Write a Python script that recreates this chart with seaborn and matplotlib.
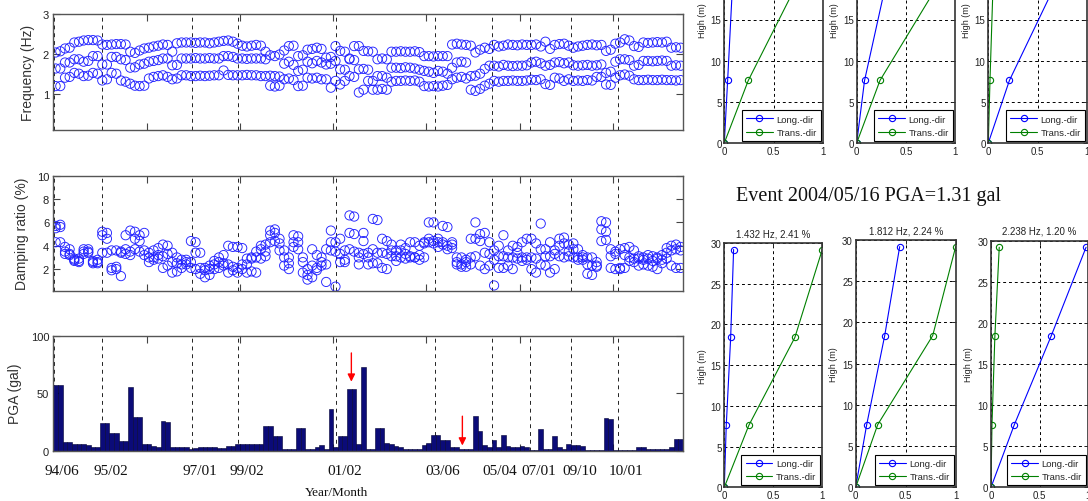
import numpy as np
import pandas as pd
import matplotlib
matplotlib.use("Agg")
import matplotlib.pyplot as plt
import seaborn as sns
from matplotlib.transforms import blended_transform_factory

# ---------------- data ----------------
freq_mode1 = [1.19, 1.19, 1.40, 1.42, 1.52, 1.50, 1.44, 1.45, 1.52, 1.50,
              1.33, 1.36, 1.52, 1.50, 1.33, 1.30, 1.25, 1.20, 1.19, 1.20,
              1.38, 1.42, 1.44, 1.46, 1.42, 1.36, 1.38, 1.46, 1.46, 1.44,
              1.44, 1.45, 1.44, 1.45, 1.46, 1.46, 1.58, 1.47, 1.46, 1.46,
              1.46, 1.47, 1.46, 1.46, 1.44, 1.44, 1.20, 1.18, 1.20, 1.36,
              1.38, 1.34, 1.19, 1.20, 1.40, 1.38, 1.40, 1.36, 1.36, 1.15,
              1.32, 1.23, 1.32, 1.44, 1.42, 1.03, 1.10, 1.32, 1.10, 1.10,
              1.12, 1.10, 1.30, 1.32, 1.32, 1.33, 1.32, 1.33, 1.30, 1.19,
              1.18, 1.19, 1.18, 1.20, 1.22, 1.36, 1.40, 1.42, 1.38, 1.10,
              1.07, 1.12, 1.20, 1.25, 1.32, 1.30, 1.32, 1.32, 1.33, 1.32,
              1.32, 1.33, 1.35, 1.34, 1.36, 1.24, 1.22, 1.40, 1.38, 1.32,
              1.36, 1.32, 1.33, 1.32, 1.34, 1.33, 1.42, 1.42, 1.23, 1.22,
              1.40, 1.46, 1.48, 1.45, 1.36, 1.34, 1.34, 1.35, 1.34, 1.34,
              1.35, 1.34, 1.34, 1.33, 1.34]
freq_mode2 = [1.63, 1.63, 1.78, 1.78, 1.86, 1.86, 1.80, 1.82, 1.94, 1.94,
              1.73, 1.73, 1.92, 1.92, 1.86, 1.84, 1.65, 1.66, 1.73, 1.75,
              1.80, 1.82, 1.84, 1.88, 1.88, 1.71, 1.72, 1.88, 1.88, 1.88,
              1.89, 1.88, 1.88, 1.89, 1.88, 1.88, 1.94, 1.94, 1.92, 1.88,
              1.88, 1.87, 1.88, 1.88, 1.88, 1.86, 1.45, 1.44, 1.43, 1.75,
              1.80, 1.72, 1.57, 1.60, 1.80, 1.76, 1.82, 1.78, 1.73, 1.75,
              1.82, 1.61, 1.60, 1.86, 1.84, 1.61, 1.62, 1.60, 1.32, 1.44,
              1.44, 1.40, 1.65, 1.65, 1.64, 1.66, 1.65, 1.63, 1.60, 1.57,
              1.55, 1.52, 1.57, 1.55, 1.50, 1.65, 1.78, 1.80, 1.78, 1.44,
              1.45, 1.50, 1.62, 1.70, 1.70, 1.68, 1.72, 1.70, 1.69, 1.70,
              1.70, 1.71, 1.78, 1.80, 1.76, 1.70, 1.72, 1.78, 1.79, 1.76,
              1.78, 1.71, 1.70, 1.71, 1.72, 1.70, 1.71, 1.73, 1.52, 1.55,
              1.80, 1.86, 1.86, 1.84, 1.70, 1.72, 1.82, 1.82, 1.81, 1.82,
              1.83, 1.82, 1.70, 1.71, 1.70]
freq_mode3 = [2.03, 2.06, 2.13, 2.15, 2.28, 2.30, 2.33, 2.34, 2.34, 2.33,
              2.23, 2.22, 2.23, 2.24, 2.24, 2.23, 2.05, 2.02, 2.08, 2.13,
              2.15, 2.18, 2.20, 2.23, 2.22, 2.05, 2.26, 2.28, 2.28, 2.28,
              2.27, 2.28, 2.28, 2.26, 2.28, 2.30, 2.32, 2.33, 2.30, 2.25,
              2.20, 2.18, 2.20, 2.22, 2.20, 2.05, 1.96, 1.94, 1.98, 2.08,
              2.19, 2.20, 1.94, 1.96, 2.10, 2.12, 2.15, 2.12, 1.90, 1.92,
              2.19, 2.07, 2.05, 1.88, 2.19, 2.19, 2.07, 2.06, 2.05, 1.86,
              1.88, 1.86, 2.05, 2.05, 2.06, 2.05, 2.05, 2.06, 2.04, 1.94,
              1.94, 1.93, 1.94, 1.94, 1.94, 2.23, 2.25, 2.23, 2.22, 2.20,
              2.03, 2.10, 2.15, 2.12, 2.22, 2.18, 2.20, 2.23, 2.22, 2.21,
              2.23, 2.22, 2.22, 2.23, 2.18, 2.30, 2.12, 2.22, 2.24, 2.25,
              2.20, 2.15, 2.18, 2.20, 2.22, 2.23, 2.21, 2.22, 2.07, 2.10,
              2.25, 2.28, 2.36, 2.33, 2.19, 2.17, 2.28, 2.27, 2.28, 2.29,
              2.28, 2.30, 2.15, 2.16, 2.15]

damp_mode1 = [5.7, 5.6, 3.9, 3.7, 2.9, 2.7, 3.7, 3.5, 2.7, 2.6,
              5.2, 5.1, 2.1, 2.0, 1.4, 4.9, 5.3, 5.2, 4.9, 5.1,
              3.4, 3.6, 3.8, 3.1, 3.3, 2.6, 2.5, 2.8, 2.6, 4.4,
              4.3, 3.4, 2.1, 2.3, 2.4, 2.6, 2.5, 4.0, 3.9, 3.9,
              3.8, 2.4, 2.9, 3.0, 3.7, 4.1, 5.3, 5.1, 4.6, 3.6,
              3.0, 4.9, 4.8, 1.7, 1.1, 2.3, 1.9, 2.3, 0.9, 5.3,
              4.3, 4.6, 3.6, 6.6, 6.5, 3.4, 5.1, 3.4, 6.3, 6.2,
              4.6, 4.4, 4.1, 3.6, 4.1, 3.8, 4.3, 4.3, 4.0, 4.2,
              6.0, 6.0, 4.6, 5.7, 5.6, 4.3, 3.0, 3.0, 2.6, 4.6,
              6.0, 5.0, 5.1, 4.3, 3.6, 4.0, 4.9, 3.6, 4.0, 3.9,
              4.3, 4.6, 4.6, 4.2, 5.9, 3.7, 4.3, 3.6, 4.6, 4.7,
              4.1, 4.2, 3.7, 3.2, 3.0, 3.0, 2.6, 6.1, 6.0, 3.7,
              3.5, 3.7, 3.8, 3.9, 3.6, 3.1, 3.0, 3.2, 3.1, 3.0,
              3.2, 3.8, 4.0, 4.1, 3.9]
damp_mode2 = [4.3, 4.3, 3.3, 3.2, 2.7, 2.9, 3.5, 3.7, 2.6, 2.8,
              4.9, 4.6, 3.6, 3.6, 3.5, 3.7, 3.2, 4.6, 4.4, 3.6,
              3.0, 3.0, 3.2, 2.1, 2.3, 1.7, 1.8, 2.1, 2.4, 2.6,
              3.4, 1.6, 1.3, 1.5, 2.0, 2.1, 2.3, 2.4, 2.2, 2.1,
              2.4, 2.9, 3.0, 3.5, 4.0, 3.5, 4.9, 5.4, 3.6, 3.0,
              2.5, 4.3, 4.3, 2.6, 1.5, 3.7, 3.2, 3.0, 3.7, 4.3,
              3.5, 3.3, 2.8, 5.1, 5.0, 2.4, 4.4, 2.4, 3.7, 3.4,
              3.4, 3.3, 3.6, 3.1, 3.6, 3.3, 3.1, 3.0, 3.2, 4.3,
              4.6, 4.4, 4.3, 4.3, 4.0, 3.8, 2.6, 2.4, 2.2, 3.0,
              4.6, 4.4, 3.4, 3.3, 2.8, 3.1, 3.1, 2.3, 3.0, 3.4,
              3.0, 3.0, 3.0, 2.9, 3.7, 3.1, 3.1, 3.3, 4.0, 4.2,
              3.5, 3.7, 3.0, 3.0, 1.6, 1.5, 2.3, 5.4, 5.2, 3.1,
              3.3, 2.1, 3.2, 3.0, 2.9, 2.9, 2.8, 2.9, 2.7, 2.9,
              2.8, 3.4, 3.6, 3.7, 3.6]
damp_mode3 = [5.5, 5.8, 3.5, 3.3, 2.8, 2.6, 3.3, 3.4, 2.5, 2.5,
              3.4, 3.4, 1.9, 2.2, 3.4, 3.3, 3.5, 3.7, 3.5, 3.2,
              2.6, 2.8, 2.9, 4.1, 4.0, 3.4, 3.0, 2.4, 2.8, 2.1,
              2.0, 2.1, 1.9, 2.0, 2.7, 3.0, 3.2, 1.7, 1.9, 1.7,
              2.0, 1.7, 1.8, 1.7, 2.9, 3.1, 4.3, 4.4, 4.2, 2.3,
              2.0, 3.9, 3.7, 3.0, 2.0, 1.3, 2.1, 2.6, 2.4, 3.6,
              0.5, 2.6, 2.6, 3.7, 3.5, 3.0, 3.3, 3.0, 2.5, 2.5,
              2.1, 2.0, 3.1, 2.7, 3.0, 2.9, 3.0, 3.0, 2.8, 3.0,
              4.3, 4.2, 3.9, 4.1, 3.7, 4.1, 2.4, 2.2, 2.8, 2.4,
              3.1, 2.3, 2.0, 2.3, 0.6, 2.1, 2.1, 3.0, 2.0, 2.9,
              2.7, 2.8, 2.0, 1.7, 2.4, 2.3, 1.7, 2.0, 3.1, 3.0,
              3.1, 3.0, 2.8, 2.8, 2.4, 2.3, 2.2, 4.4, 4.5, 2.1,
              2.0, 2.0, 2.1, 2.7, 2.6, 2.3, 2.4, 2.3, 2.2, 2.0,
              2.5, 2.9, 2.3, 2.1, 2.1]

pga_gal = [57, 57, 7.5, 7.5, 6, 6, 5.5, 5, 3.5, 3.5,
           24, 24, 15, 15, 8.5, 8.5, 55, 29.5, 29.5, 5.5,
           5.5, 4, 3.5, 25.5, 25, 3.5, 3.5, 3.5, 3.5, 1.5,
           2.5, 3, 3.5, 3.5, 3, 2.3, 2.3, 4, 4, 5.5,
           5.5, 6, 6, 5.5, 5.5, 21.5, 21.5, 13, 13, 1.5,
           1.5, 1.5, 19.5, 19.5, 1.5, 1.5, 3, 5, 1.5, 36.5,
           3.5, 12.5, 13, 54, 54, 6, 73, 1.5, 1.5, 20,
           20, 7, 6, 4, 3.5, 1.5, 1.5, 1.5, 1.5, 5,
           6.5, 13.5, 13.5, 9.5, 9.5, 3.5, 3, 1.5, 1.31, 1.5,
           30, 17, 5, 3.5, 9.5, 3, 13.5, 4, 3, 3,
           4, 3, 1, 1, 18.5, 1.5, 1.5, 13, 3.5, 1.5,
           5.5, 5, 5, 4, 1, 1, 1, 1, 28.5, 28,
           1, 1, 1, 1, 1, 3.5, 3.5, 1.5, 1.5, 1.5,
           1.5, 1.5, 3, 10.5, 10.5]

# event index at which each Year/Month boundary occurs
boundary_event = [0.1, 10.5, 29.7, 39.6, 60.6, 81.8, 94.0, 102.2, 111.0, 121.0]
boundary_label = ["94/06", "95/02", "97/01", "99/02", "01/02", "03/06",
                  "05/04", "07/01", "09/10", "10/01"]
arrow_events = [63.9, 87.7]
arrow_tops = [85, 30]
arrow_tips = [60, 4.5]

# mode shapes
floor_height = [0, 7.6, 18.4, 29.2]
top_long = [[0, 0.034, 0.08, 0.10], [0, 0.08, 0.28, 0.45], [0, 0.214, 0.646, 1.0]]
top_trans = [[0, 0.244, 0.70, 1.0], [0, 0.237, 0.786, 1.0], [0, 0.017, 0.046, 0.08]]
bot_long = [[0, 0.02, 0.065, 0.095], [0, 0.11, 0.29, 0.44], [0, 0.24, 0.62, 0.98]]
bot_trans = [[0, 0.25, 0.72, 1.0], [0, 0.22, 0.77, 1.0], [0, 0.01, 0.04, 0.085]]
bot_titles = ["1.432 Hz, 2.41 %", "1.812 Hz, 2.24 %", "2.238 Hz, 1.20 %"]
event_title = "Event 2004/05/16 PGA=1.31 gal"

# ---------------- style ----------------
sns.set_style("white")
plt.rcParams["font.family"] = ["Liberation Sans", "DejaVu Sans"]
plt.rcParams["axes.edgecolor"] = "#444444"
SERIF = ["Liberation Serif", "DejaVu Serif"]

W, H = 1088, 502
fig = plt.figure(figsize=(W / 100, H / 100), dpi=100)
fig.patch.set_facecolor("white")


def add_ax(l, t, r, b):
    return fig.add_axes([l / W, 1 - b / H, (r - l) / W, (b - t) / H])


n_events = len(pga_gal)
event_x = np.arange(n_events) + 0.5

freq_df = pd.DataFrame({
    "event": np.tile(event_x, 3),
    "value": np.concatenate([freq_mode1, freq_mode2, freq_mode3]),
})
damp_df = pd.DataFrame({
    "event": np.tile(event_x, 3),
    "value": np.concatenate([damp_mode1, damp_mode2, damp_mode3]),
})
pga_df = pd.DataFrame({"event": event_x, "pga": pga_gal})

L, R = 53.3, 683
ax_f = add_ax(L, 14.7, R, 130.7)
ax_d = add_ax(L, 176.7, R, 291.7)
ax_p = add_ax(L, 336.7, R, 451.7)

for ax, df in [(ax_f, freq_df), (ax_d, damp_df)]:
    sns.scatterplot(data=df, x="event", y="value", ax=ax, marker="o", s=44,
                    facecolor="none", edgecolor="#2222ff", linewidth=0.65,
                    legend=False)

sns.barplot(data=pga_df, x="event", y="pga", ax=ax_p, native_scale=True,
            width=1, color="#0b0b78", saturation=1, edgecolor="#000033",
            linewidth=0.4, errorbar=None)

for ax in (ax_f, ax_d, ax_p):
    ax.set_xlim(0, n_events)
    ax.set_xticks([20, 40, 60, 80, 100, 120])
    ax.set_xticklabels([])
    ax.set_xlabel("")
    ax.set_ylabel("")
    ax.tick_params(direction="in", length=5, width=0.8, top=True, right=True,
                   bottom=True, left=True, labelsize=8, labelcolor="#222222",
                   colors="#444444", pad=3)
    for sp in ax.spines.values():
        sp.set_linewidth(1.0)
        sp.set_color("#555555")
    for xb in boundary_event:
        ax.axvline(xb, color="#222222", ls=(0, (4, 4)), lw=0.7, zorder=0.5)

ax_f.set_ylim(0.1, 3)
ax_f.set_yticks([1, 2, 3])
ax_d.set_ylim(0.15, 10)
ax_d.set_yticks([2, 4, 6, 8, 10])
ax_p.set_ylim(0, 100)
ax_p.set_yticks([0, 50, 100])
for lab in ax_f.get_yticklabels() + ax_d.get_yticklabels() + ax_p.get_yticklabels():
    lab.set_color("#222222")

fig.text(28 / W, 1 - 73 / H, "Frequency (Hz)", rotation=90, ha="center",
         va="center", fontsize=10, color="#333333")
fig.text(21.7 / W, 1 - 234 / H, "Damping ratio (%)", rotation=90, ha="center",
         va="center", fontsize=10, color="#333333")
fig.text(14.5 / W, 1 - 394 / H, "PGA (gal)", rotation=90, ha="center",
         va="center", fontsize=10, color="#333333")

trans_p = blended_transform_factory(ax_p.transData, ax_p.transAxes)
for xb, lab in zip(boundary_event, boundary_label):
    ax_p.text(xb + 1.8, -0.175, lab, transform=trans_p, ha="center",
              va="center", fontsize=11, family=SERIF, color="#111111")
fig.text(337 / W, 1 - 493.3 / H, "Year/Month", ha="center", va="center",
         fontsize=9.5, family=SERIF, color="#111111")

for xe, yt, yh in zip(arrow_events, arrow_tops, arrow_tips):
    ax_p.annotate("", xy=(xe, yh), xytext=(xe, yt),
                  arrowprops=dict(arrowstyle="-|>", color="#ff0000", lw=1.0,
                                  mutation_scale=11, shrinkA=0, shrinkB=0))

# ---------------- mode shape panels ----------------
BLUE = "#0000ff"
GREEN = "#008000"


def mode_panel(ax, long_v, trans_v, title=None):
    sns.lineplot(x=long_v, y=floor_height, ax=ax, sort=False, estimator=None,
                 color=BLUE, lw=0.8, marker="o", markersize=4.5,
                 markerfacecolor="none", markeredgecolor=BLUE,
                 markeredgewidth=0.8, label="Long.-dir")
    sns.lineplot(x=trans_v, y=floor_height, ax=ax, sort=False, estimator=None,
                 color=GREEN, lw=0.8, marker="o", markersize=4.5,
                 markerfacecolor="none", markeredgecolor=GREEN,
                 markeredgewidth=0.8, label="Trans.-dir")
    ax.set_xlim(0, 1)
    ax.set_ylim(0, 30)
    ax.set_xticks([0, 0.5, 1])
    ax.set_xticklabels(["0", "0.5", "1"])
    ax.set_yticks([0, 5, 10, 15, 20, 25, 30])
    ax.grid(True, ls=(0, (3, 3)), color="black", lw=0.7)
    ax.set_axisbelow(True)
    ax.tick_params(direction="in", length=3, width=0.7, top=True, right=True,
                   labelsize=7, labelcolor="#222222", pad=2)
    for sp in ax.spines.values():
        sp.set_linewidth(1.2)
        sp.set_color("#333333")
    ax.set_xlabel("")
    ax.set_ylabel("High (m)", fontsize=6.5, color="#222222", labelpad=3)
    leg = ax.legend(loc="lower right", fontsize=6.8, frameon=True,
                    fancybox=False, edgecolor="black", framealpha=1,
                    borderaxespad=0.2, handlelength=2.8, labelspacing=0.45,
                    borderpad=0.45, handletextpad=0.4)
    leg.get_frame().set_linewidth(0.8)
    if title:
        ax.set_title(title, fontsize=7, pad=5, color="#222222")


top_boxes = [(724.3, 822.7), (856.7, 955.0), (988.3, 1087.0)]
for (l, r), lv, tv in zip(top_boxes, top_long, top_trans):
    ax = add_ax(l, -103, r, 144)
    mode_panel(ax, lv, tv)

bot_boxes = [(724.3, 244, 822.3), (855.7, 241, 955.7), (991, 241.7, 1088)]
for (l, t, r), lv, tv, ti in zip(bot_boxes, bot_long, bot_trans, bot_titles):
    ax = add_ax(l, t, r, 488.3)
    mode_panel(ax, lv, tv, ti)

fig.text(868 / W, 1 - 196.7 / H, event_title, ha="center", va="center",
         fontsize=14.5, family=SERIF, color="#111111")

fig.savefig("out.png", dpi=100)
